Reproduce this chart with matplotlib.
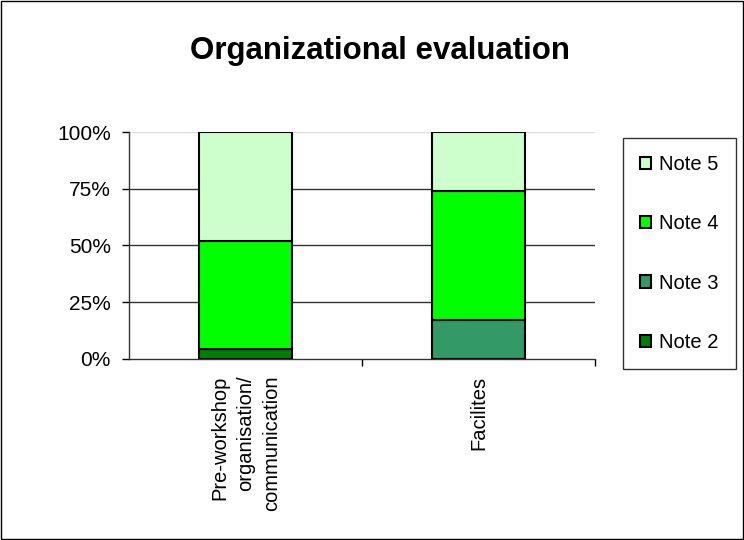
import matplotlib.pyplot as plt
import numpy as np
from matplotlib.patches import Rectangle

plt.rcParams['font.family'] = ['Liberation Sans', 'DejaVu Sans']

categories = ['Pre-workshop\norganisation/\ncommunication', 'Facilites']
notes = ['Note 2', 'Note 3', 'Note 4', 'Note 5']
note2 = [4.35, 0.0]
note3 = [0.0, 17.4]
note4 = [47.8, 56.5]
note5 = [47.85, 26.1]
colors = ['#008000', '#339966', '#00FF00', '#CCFFCC']
yticks = [0, 25, 50, 75, 100]

fig = plt.figure(figsize=(7.44, 5.4), dpi=100)
ax = fig.add_axes([129 / 744, 1 - 359 / 540, 466 / 744, 227 / 540])

x = np.arange(len(categories))
bottom = np.zeros(len(categories))
handles = []
for name, vals, col in zip(notes, [note2, note3, note4, note5], colors):
    vals = np.array(vals)
    b = ax.bar(x, vals, 0.4, bottom=bottom, color=col, edgecolor='black',
               linewidth=1.5, label=name, zorder=3)
    handles.append(b)
    bottom += vals

ax.set_xlim(-0.5, 1.5)
ax.set_ylim(0, 100)
ax.set_yticks(yticks)
ax.set_yticklabels([f'{t}%' for t in yticks], fontsize=15)
# gridlines; the top one is barely visible in the original
for t in yticks[1:-1]:
    ax.axhline(t, color='#333333', linewidth=1, zorder=1)
ax.axhline(yticks[-1], color='#dddddd', linewidth=1, zorder=1)

ax.set_xticks(x)
ax.set_xticklabels(categories, rotation=90, fontsize=14.5, va='top',
                   ha='center', multialignment='right', linespacing=1.45)
ax.set_xticks([0.5, 1.5], minor=True)
ax.tick_params(axis='x', which='major', length=0, pad=12)
ax.tick_params(axis='x', which='minor', length=5, direction='out', width=1)
ax.tick_params(axis='y', length=5, direction='out', width=1, pad=8)

for s in ['top', 'right']:
    ax.spines[s].set_visible(False)
for s in ['left', 'bottom']:
    ax.spines[s].set_color('#333333')
    ax.spines[s].set_linewidth(1)

fig.suptitle('Organizational evaluation', fontsize=22.5, fontweight='bold',
             x=380 / 744, y=1 - 51 / 540, va='center')

leg = fig.legend(handles[::-1], notes[::-1], loc='upper left',
                 bbox_to_anchor=(623 / 744, 1 - 138 / 540), fontsize=14.5,
                 frameon=True, fancybox=False, edgecolor='black',
                 handlelength=0.55, handleheight=0.55, handletextpad=0.4,
                 labelspacing=2.0, borderpad=0.85, borderaxespad=0)
leg.get_frame().set_linewidth(1)

fig.add_artist(Rectangle((0.001, 0.001), 0.997, 0.997, transform=fig.transFigure,
                         fill=False, edgecolor='black', linewidth=1))

fig.savefig('out.png', dpi=100)
